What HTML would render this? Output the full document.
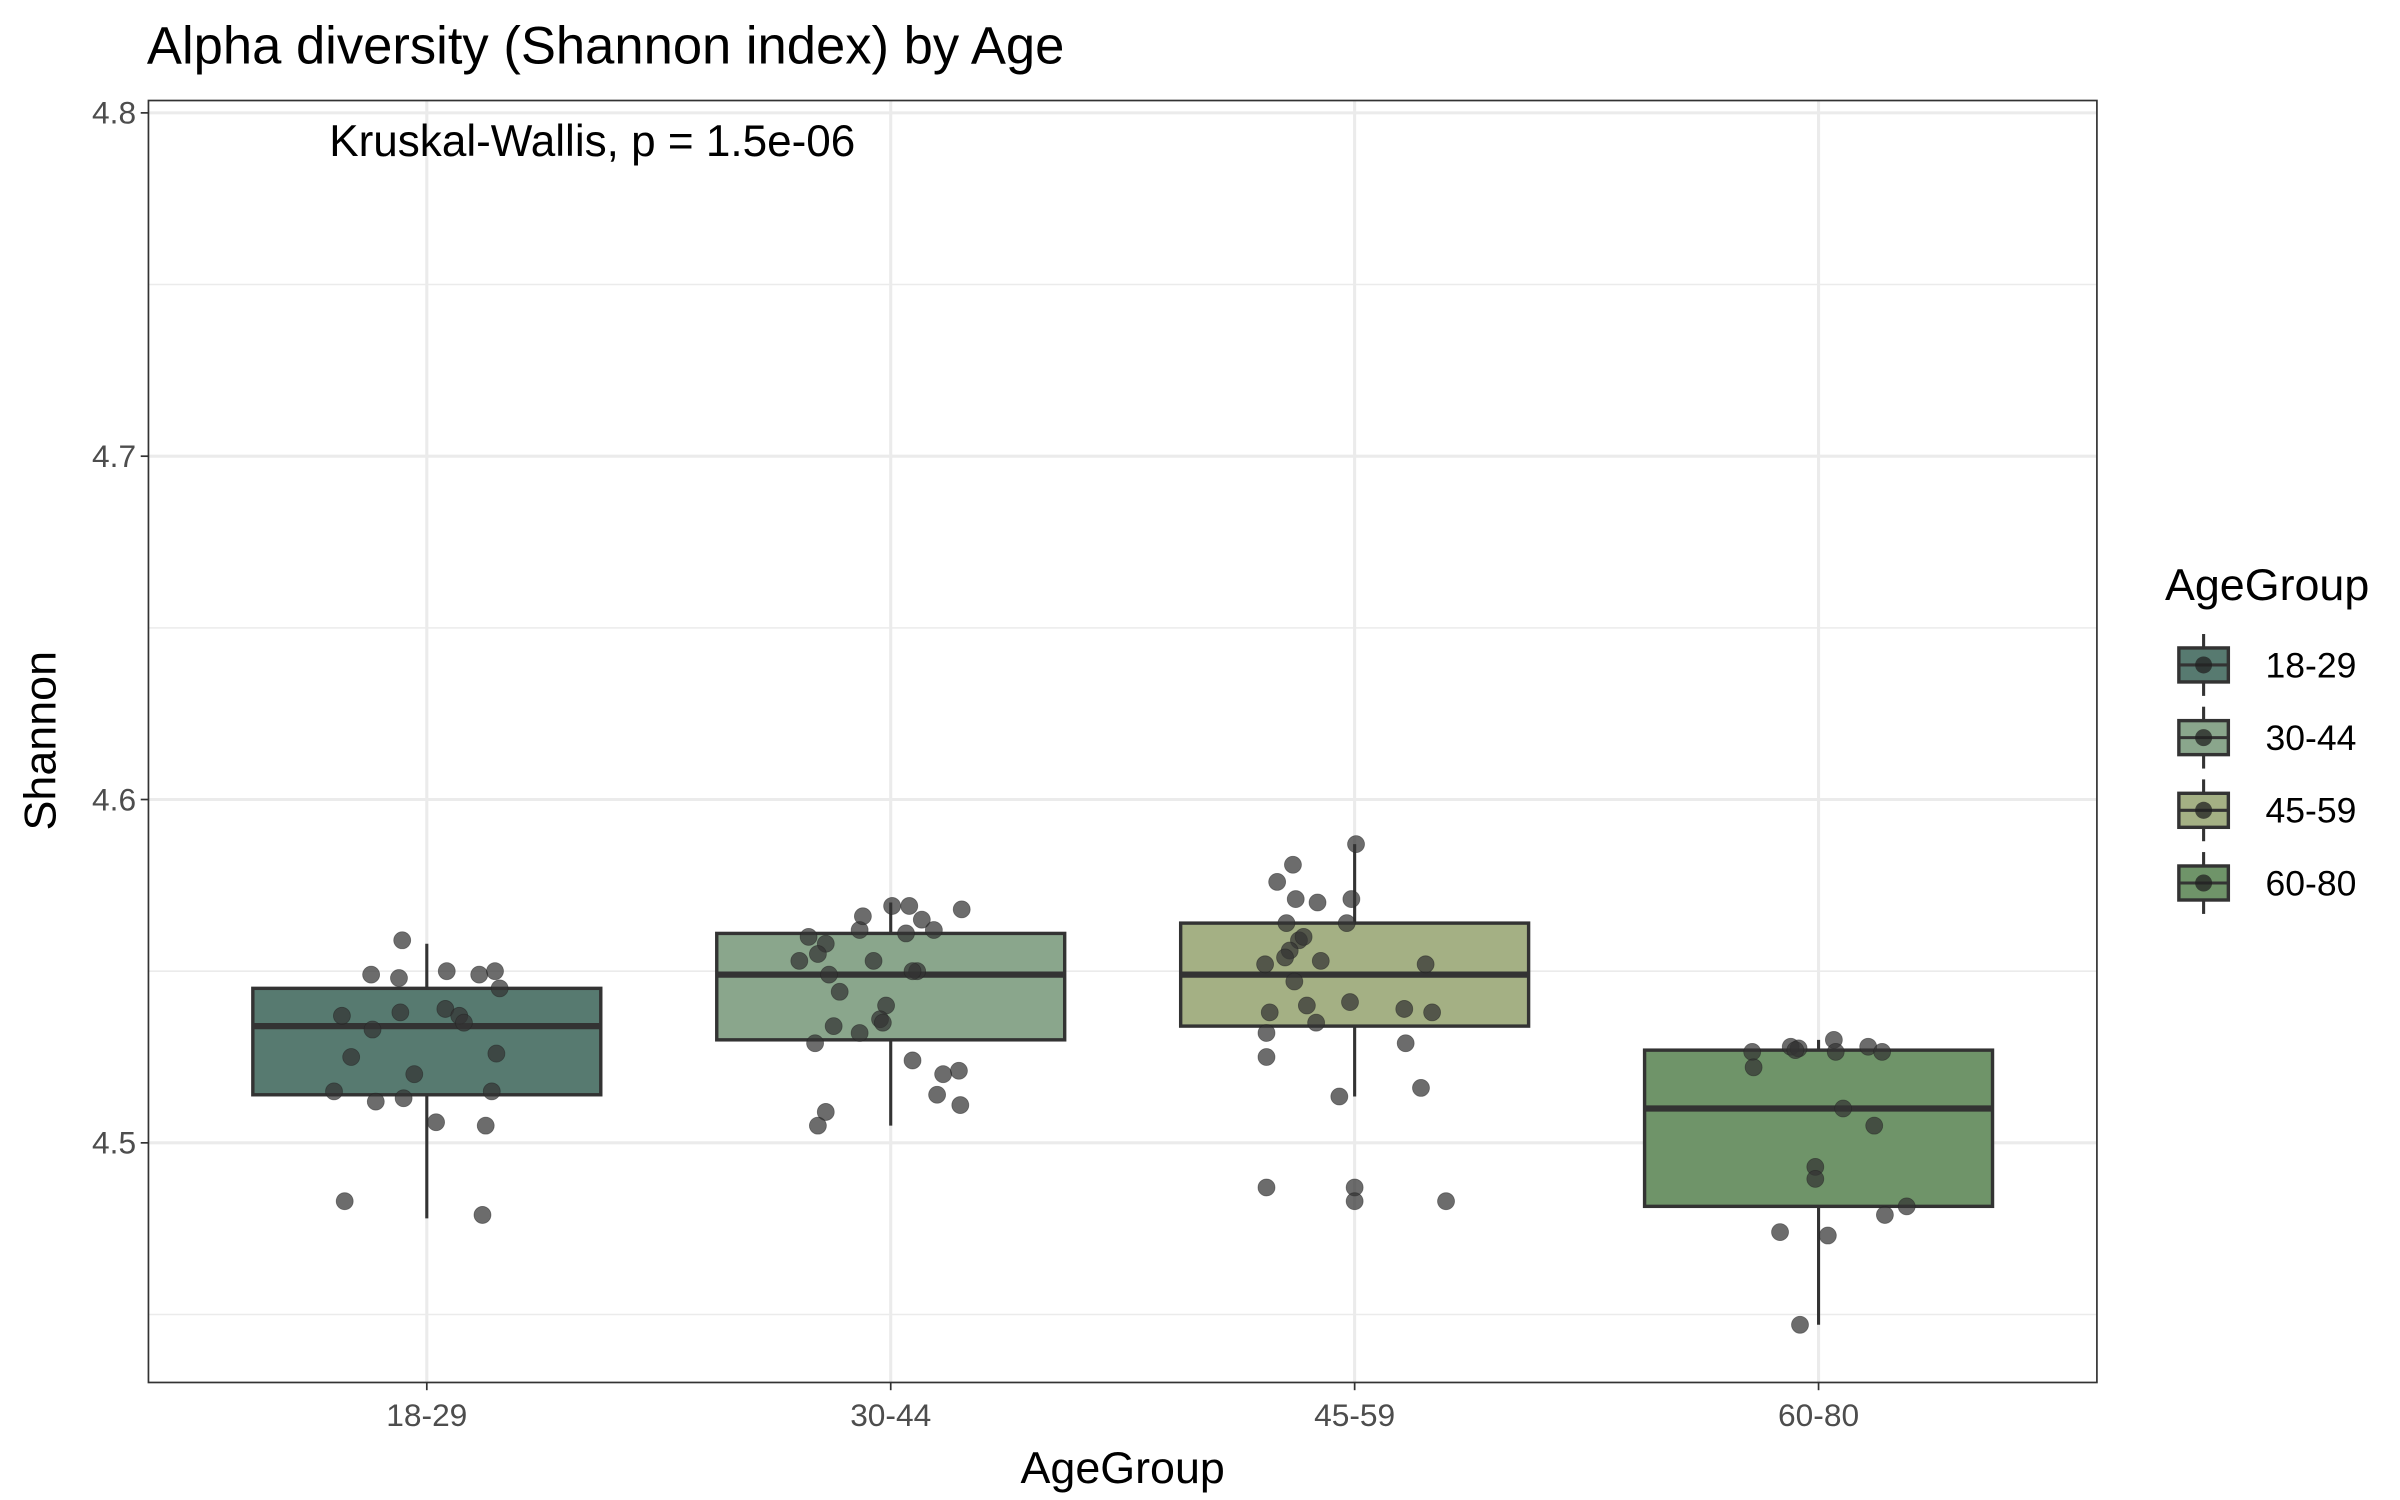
<!DOCTYPE html>
<html><head><meta charset="utf-8"><style>
html,body{margin:0;padding:0;background:#fff}
svg{display:block;font-family:"Liberation Sans",Arial,sans-serif}
</style></head><body>
<svg id="chart" width="2400" height="1500" viewBox="0 0 1552 970" xmlns="http://www.w3.org/2000/svg">
<rect width="1552" height="970" fill="#fff"/>
<text x="95" y="41" font-size="34" fill="#000">Alpha diversity (Shannon index) by Age</text>
<g id="grid"></g>
<g id="boxes"></g>
<g id="points"></g>
<rect x="96" y="65" width="1260" height="829" fill="none" stroke="#333" stroke-width="1.1"/>
<g id="axes"></g>
<text x="383" y="101" font-size="28.5" text-anchor="middle" fill="#000">Kruskal-Wallis, p = 1.5e-06</text>
<text x="726" y="959" font-size="29" text-anchor="middle" fill="#000">AgeGroup</text>
<text transform="translate(36,479) rotate(-90)" font-size="29" text-anchor="middle" fill="#000">Shannon</text>
<g id="legend"></g>
</svg>
<script>
const categories = ["18-29","30-44","45-59","60-80"];
const colors = ["#577a70","#8aa68c","#a4b084","#6f9469"];
const yTicks = [4.5,4.6,4.7,4.8];
const yMinor = [4.45,4.55,4.65,4.75];
const q1 = [4.514,4.530,4.534,4.4815];
const med = [4.534,4.549,4.549,4.510];
const q3 = [4.545,4.561,4.564,4.527];
const whiskLo = [4.478,4.505,4.5135,4.447];
const whiskHi = [4.558,4.570,4.587,4.530];
const pts0 = [4.559,4.549,4.548,4.549,4.550,4.550,4.537,4.538,4.539,4.537,4.535,4.533,4.545,4.525,4.520,4.526,4.515,4.513,4.512,4.515,4.506,4.505,4.483,4.479];
const jit0 = [-0.053,-0.12,-0.06,0.113,0.147,0.043,-0.183,-0.057,0.04,0.07,0.08,-0.117,0.157,-0.163,-0.027,0.15,-0.2,-0.05,-0.11,0.14,0.02,0.127,-0.177,0.12];
const pts1 = [4.560,4.558,4.555,4.553,4.549,4.562,4.566,4.569,4.569,4.565,4.562,4.568,4.561,4.553,4.550,4.550,4.544,4.540,4.536,4.535,4.534,4.532,4.529,4.524,4.521,4.520,4.514,4.511,4.509,4.505];
const jit1 = [-0.177,-0.14,-0.157,-0.197,-0.133,-0.067,-0.06,0.003,0.04,0.067,0.093,0.153,0.033,-0.037,0.057,0.047,-0.11,-0.01,-0.023,-0.017,-0.123,-0.067,-0.163,0.047,0.147,0.113,0.1,0.15,-0.14,-0.157];
const pts2 = [4.587,4.581,4.576,4.571,4.570,4.571,4.564,4.564,4.559,4.556,4.554,4.560,4.552,4.553,4.552,4.547,4.540,4.541,4.535,4.539,4.538,4.538,4.532,4.529,4.525,4.5135,4.516,4.487,4.487,4.483,4.483];
const jit2 = [0.003,-0.133,-0.167,-0.127,-0.08,-0.007,-0.017,-0.147,-0.12,-0.14,-0.15,-0.11,-0.193,-0.073,0.153,-0.13,-0.103,-0.01,-0.083,0.107,0.167,-0.183,-0.19,0.11,-0.19,-0.033,0.143,-0.19,0,0,0.197];
const pts3 = [4.5265,4.522,4.528,4.5275,4.530,4.5265,4.528,4.5265,4.527,4.510,4.505,4.493,4.4895,4.4815,4.479,4.474,4.473,4.447];
const jit3 = [-0.143,-0.14,-0.06,-0.043,0.033,0.037,0.107,0.137,-0.05,0.053,0.12,-0.007,-0.007,0.19,0.143,-0.083,0.02,-0.04];
const allPts = [pts0,pts1,pts2,pts3];
const allJit = [jit0,jit1,jit2,jit3];

const NS="http://www.w3.org/2000/svg";
const L=96,R=1356,T=65,B=894;
const yMin=4.4302, yMax=4.8036;
const ys = v => B - (v - yMin)/(yMax - yMin)*(B - T);
const step = (R - L)/(categories.length - 1 + 1.2);
const xs = i => L + (i + 0.6)*step;
const bw = step*0.75;
function mk(tag, attrs, parent){const e=document.createElementNS(NS,tag);for(const k in attrs)e.setAttribute(k,attrs[k]);parent.appendChild(e);return e;}
const grid=document.getElementById('grid'),boxes=document.getElementById('boxes'),points=document.getElementById('points'),axes=document.getElementById('axes'),legend=document.getElementById('legend');
mk('rect',{x:L,y:T,width:R-L,height:B-T,fill:'#fff'},grid);
yMinor.forEach(v=>{const e=mk('line',{x1:L,x2:R,y1:ys(v),y2:ys(v),stroke:'#ebebeb','stroke-width':1},grid);

});
yTicks.forEach(v=>{const e=mk('line',{x1:L,x2:R,y1:ys(v),y2:ys(v),stroke:'#ebebeb','stroke-width':2},grid);


const t=mk('line',{x1:L-5,x2:L,y1:ys(v),y2:ys(v),stroke:'#333','stroke-width':1.1},axes);


const lb=mk('text',{x:L-8,y:ys(v)+7,'font-size':20.5,'text-anchor':'end',fill:'#4d4d4d'},axes);lb.textContent=v.toFixed(1);

});
categories.forEach((c,i)=>{const x=Math.round(xs(i));
const g=mk('line',{x1:x,x2:x,y1:T,y2:B,stroke:'#ebebeb','stroke-width':2},grid);


const t=mk('line',{x1:x,x2:x,y1:B,y2:B+5,stroke:'#333','stroke-width':1.1},axes);


const lb=mk('text',{x:x,y:B+28,'font-size':20.5,'text-anchor':'middle',fill:'#4d4d4d'},axes);lb.textContent=c;


const wl=mk('line',{x1:x,x2:x,y1:ys(whiskHi[i]),y2:ys(whiskLo[i]),stroke:'#333','stroke-width':2},boxes);


const b=mk('rect',{x:x-bw/2,y:ys(q3[i]),width:bw,height:ys(q1[i])-ys(q3[i]),fill:colors[i],stroke:'#333','stroke-width':2.2},boxes);


const m=mk('line',{x1:x-bw/2,x2:x+bw/2,y1:ys(med[i]),y2:ys(med[i]),stroke:'#333','stroke-width':4},boxes);


allPts[i].forEach((v,j)=>{const p=mk('circle',{cx:xs(i)+allJit[i][j]*step,cy:ys(v),r:5.5,fill:'#333','fill-opacity':0.72,stroke:'#222','stroke-opacity':0.5,'stroke-width':0.5},points);

});
});
const lt=mk('text',{x:1400,y:388,'font-size':29,fill:'#000'},legend);lt.textContent='AgeGroup';


categories.forEach((c,i)=>{const cy=430+i*47;
const g=mk('g',{},legend);


mk('line',{x1:1425,x2:1425,y1:cy-20,y2:cy+20,stroke:'#333','stroke-width':2},g);
mk('rect',{x:1409,y:cy-11,width:32,height:22,fill:colors[i],stroke:'#333','stroke-width':2.2},g);
mk('line',{x1:1409,x2:1441,y1:cy,y2:cy,stroke:'#333','stroke-width':2},g);
mk('circle',{cx:1425,cy:cy,r:5.5,fill:'#222','fill-opacity':0.75},g);
const t=mk('text',{x:1465,y:cy+8,'font-size':23,fill:'#000'},g);t.textContent=c;});
</script>
</body></html>
